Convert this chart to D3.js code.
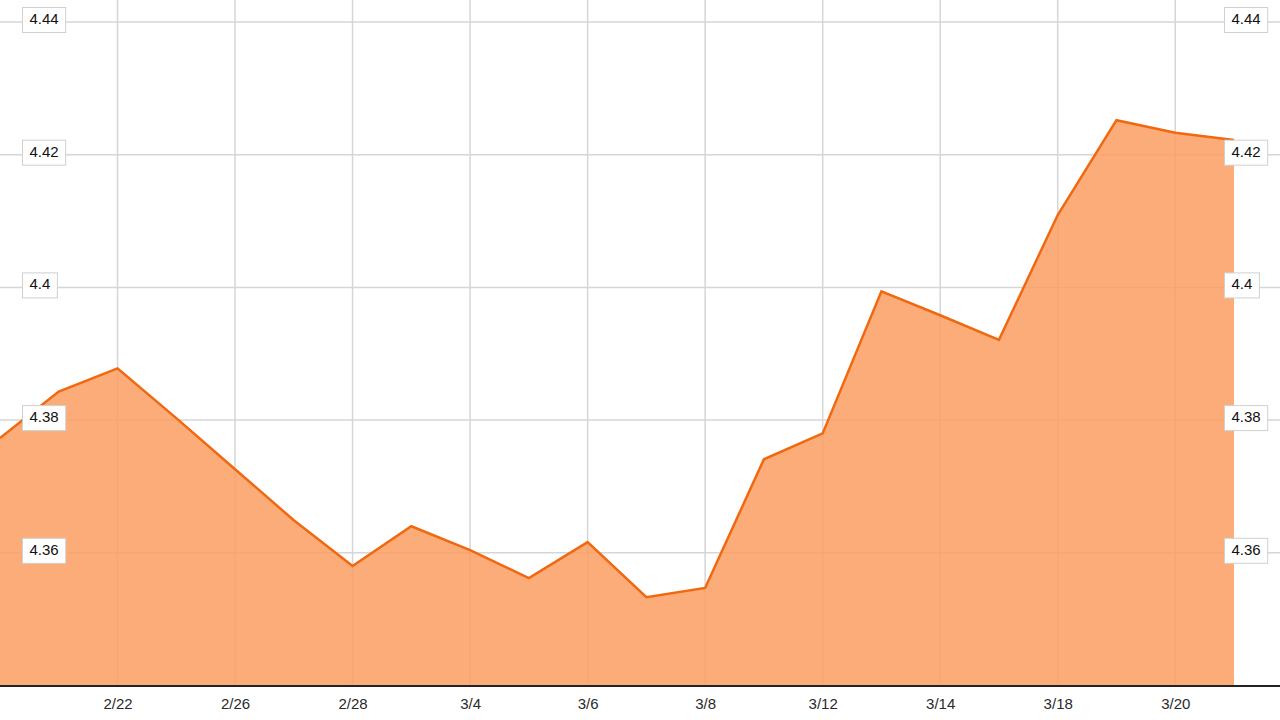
<!DOCTYPE html>
<html>
<head>
<meta charset="utf-8">
<script src="https://cdn.jsdelivr.net/npm/d3@7/dist/d3.min.js"></script>
<style>
  html, body { margin: 0; padding: 0; background: #ffffff; }
  svg { display: block; }
  text { font-family: Arial, "Liberation Sans", sans-serif; }
</style>
</head>
<body>
<svg id="chart" width="1280" height="720"></svg>
<script>
// Trading days shown
const dates = ["2/20","2/21","2/22","2/25","2/26","2/27","2/28","3/1","3/4","3/5","3/6",
               "3/7","3/8","3/11","3/12","3/13","3/14","3/15","3/18","3/19","3/20","3/21"];
const values = [4.3773,4.3843,4.3878,4.3803,4.3726,4.3649,4.3580,4.3640,4.3604,4.3562,4.3616,
                4.3533,4.3547,4.3741,4.3780,4.3994,4.3958,4.3921,4.4109,4.4252,4.4233,4.4222];
const xTickLabels = ["2/22","2/26","2/28","3/4","3/6","3/8","3/12","3/14","3/18","3/20"];
const yTickValues = [4.36, 4.38, 4.40, 4.42, 4.44];
const yTickLabels = ["4.36", "4.38", "4.4", "4.42", "4.44"];

const W = 1280, H = 720;
const svg = d3.select("#chart");

const x = d3.scalePoint().domain(dates).range([0, 1234]);
const y = d3.scaleLinear().domain([4.34, 4.44]).range([685.5, 22]);

const data = dates.map((d, i) => ({ d, v: values[i] }));

// grid
const grid = svg.append("g");
grid.selectAll("line.h").data(yTickValues).join("line")
  .attr("x1", 0).attr("x2", W)
  .attr("y1", d => y(d)).attr("y2", d => y(d))
  .attr("stroke", "#d6d6d6").attr("stroke-width", 1.5);
grid.selectAll("line.v").data(xTickLabels).join("line")
  .attr("x1", d => x(d)).attr("x2", d => x(d))
  .attr("y1", 0).attr("y2", y(4.34))
  .attr("stroke", "#d6d6d6").attr("stroke-width", 1.5);

// area
const area = d3.area().x(d => x(d.d)).y0(y(4.34)).y1(d => y(d.v));
svg.append("path").datum(data).attr("d", area)
  .attr("fill", "rgb(252,158,98)").attr("fill-opacity", 0.86);

const line = d3.line().x(d => x(d.d)).y(d => y(d.v));
svg.append("path").datum(data).attr("d", line)
  .attr("fill", "none").attr("stroke", "#f0680f").attr("stroke-width", 2.5)
  .attr("stroke-linejoin", "miter");

// x axis
const xAxis = d3.axisBottom(x).tickValues(xTickLabels).tickSize(0).tickPadding(13);
const gx = svg.append("g").attr("transform", `translate(0,${y(4.34)})`).call(xAxis);
gx.select(".domain").remove();
gx.selectAll("text").attr("font-size", 15).attr("fill", "#2a2a2a")
  .attr("font-family", "Arial, 'Liberation Sans', sans-serif");
svg.append("line").attr("x1", 0).attr("x2", W)
  .attr("y1", y(4.34) + 0.5).attr("y2", y(4.34) + 0.5)
  .attr("stroke", "#222").attr("stroke-width", 2);

// y labels in boxes, left and right
function yLabels(left) {
  const g = svg.append("g");
  yTickValues.forEach((v, i) => {
    const t = g.append("text")
      .attr("x", 0).attr("y", y(v) - 2)
      .attr("dominant-baseline", "middle")
      .attr("font-size", 15).attr("fill", "#111")
      .text(yTickLabels[i]);
    const w = t.node().getComputedTextLength();
    const bw = w + 14, bh = 25;
    const bx = left;
    g.insert("rect", "text")
      .attr("x", bx).attr("y", y(v) - 2 - bh / 2)
      .attr("width", bw).attr("height", bh)
      .attr("fill", "#fff").attr("stroke", "#d0d0d0").attr("stroke-width", 1);
    t.attr("x", bx + 7);
  });
}
yLabels(22.5);
yLabels(1224.5);
</script>
</body>
</html>
